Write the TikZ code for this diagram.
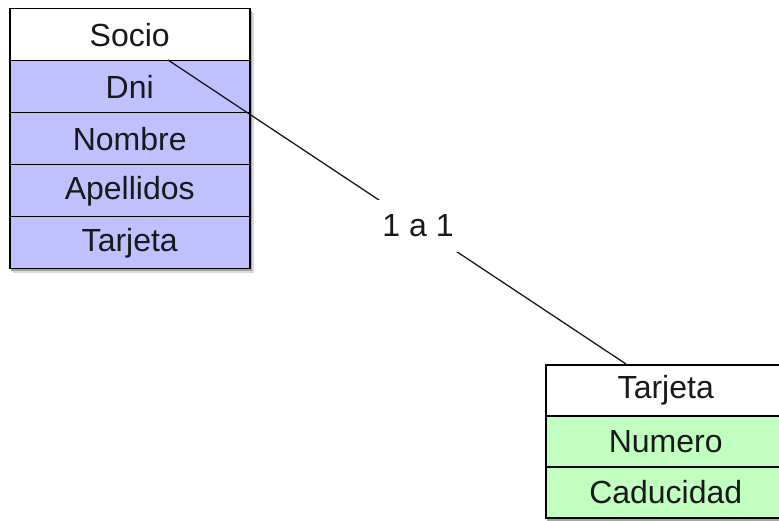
\documentclass[tikz,border=0pt]{standalone}
\usepackage{fontspec}
\setmainfont{Liberation Sans}
\begin{document}
\begin{tikzpicture}[x=1pt,y=-1pt,
  cell/.style={draw=black, line width=1.5pt, minimum width=240pt, minimum height=52pt, inner sep=0pt, anchor=north west, text=black!90, font=\fontsize{32}{36}\selectfont},
  hdr/.style={cell, fill=white},
  socrow/.style={cell, fill={rgb,255:red,192;green,192;blue,255}},
  tarrow/.style={cell, fill={rgb,255:red,192;green,255;blue,192}, minimum height=51pt},
  link/.style={draw=black!90, line width=1.3pt},
  lbl/.style={fill=white, inner xsep=8pt, inner ysep=15pt, text=black!90, font=\fontsize{32}{36}\selectfont}]
\useasboundingbox (0,0) rectangle (779,521);
% shadows
\fill[black!15] (13,13) rectangle (254,273);
\fill[black!35] (11,11) rectangle (252,271);
\fill[black!15] (549,369) rectangle (790,526);
\fill[black!35] (547,367) rectangle (788,524);
% Socio
\node[hdr] (sh) at (9,8) {Socio};
\node[socrow] (s1) at (9,60) {Dni};
\node[socrow] (s2) at (9,112) {Nombre};
\node[socrow] (s3) at (9,164) {Apellidos};
\node[socrow] (s4) at (9,216) {Tarjeta};
% Tarjeta
\node[hdr, minimum height=51pt] (th) at (545,364) {Tarjeta};
\node[tarrow] (t1) at (545,415) {Numero};
\node[tarrow] (t2) at (545,466) {Caducidad};
% connector
\coordinate (a) at (168,60);
\coordinate (b) at (626,364);
\draw[link] (a) -- node[lbl, pos=0.546] (rel) {1 a 1} (b);
\end{tikzpicture}
\end{document}
